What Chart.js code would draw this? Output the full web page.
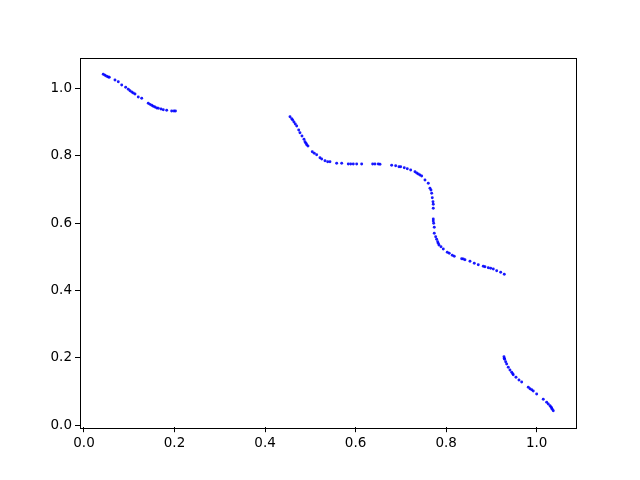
<!DOCTYPE html>
<html>
<head>
<meta charset="utf-8">
<script src="https://cdn.jsdelivr.net/npm/chart.js@4"></script>
<style>
  body { margin: 0; background: #fff; }
</style>
</head>
<body>
<canvas id="myChart" width="640" height="480"></canvas>
<script>
// points, four runs of the curve
const xs = [
  0.0426, 0.0464, 0.0501, 0.0537, 0.0559, 0.0685, 0.0758, 0.0833, 0.0921, 0.0979,
  0.1016, 0.1054, 0.1089, 0.1127, 0.1199, 0.1275, 0.1420, 0.1458, 0.1496, 0.1531,
  0.1568, 0.1606, 0.1641, 0.1701, 0.1752, 0.1827, 0.1937, 0.1988, 0.2021,
  0.4551, 0.4588, 0.4610, 0.4639, 0.4668, 0.4699, 0.4743, 0.4771, 0.4816, 0.4860,
  0.4882, 0.4904, 0.4920, 0.4948, 0.5043, 0.5087, 0.5140, 0.5213, 0.5251, 0.5324,
  0.5383, 0.5434, 0.5582, 0.5693, 0.5838, 0.5891, 0.5949, 0.6024, 0.6134, 0.6377,
  0.6428, 0.6501, 0.6539, 0.6797, 0.6885, 0.6958, 0.6996, 0.7075, 0.7142, 0.7217,
  0.7312, 0.7349, 0.7385, 0.7422, 0.7460, 0.7533, 0.7606, 0.7643, 0.7665, 0.7681,
  0.7694, 0.7710, 0.7716, 0.7716, 0.7716, 0.7716, 0.7725, 0.7738, 0.7738, 0.7769,
  0.7791, 0.7813, 0.7827, 0.7842, 0.7886, 0.7937, 0.8025, 0.8069, 0.8136, 0.8180,
  0.8343, 0.8379, 0.8416, 0.8527, 0.8622, 0.8710, 0.8821, 0.8858, 0.8931, 0.8984,
  0.9042, 0.9117, 0.9205, 0.9285,
  0.9278, 0.9285, 0.9293, 0.9315, 0.9337, 0.9373, 0.9410, 0.9448, 0.9470, 0.9483,
  0.9543, 0.9609, 0.9669, 0.9815, 0.9852, 0.9890, 0.9925, 1.0000, 1.0146, 1.0221,
  1.0256, 1.0294, 1.0316, 1.0331, 1.0345, 1.0367
];
const ys = [
  1.0425, 1.0396, 1.0366, 1.0345, 1.0336, 1.0256, 1.0205, 1.0107, 1.0039, 0.9979,
  0.9938, 0.9899, 0.9869, 0.9840, 0.9750, 0.9712, 0.9563, 0.9533, 0.9504, 0.9474,
  0.9453, 0.9423, 0.9415, 0.9394, 0.9373, 0.9355, 0.9334, 0.9334, 0.9334,
  0.9165, 0.9105, 0.9067, 0.9007, 0.8948, 0.8888, 0.8769, 0.8689, 0.8591, 0.8493,
  0.8422, 0.8374, 0.8333, 0.8294, 0.8124, 0.8077, 0.8035, 0.7946, 0.7907, 0.7857,
  0.7827, 0.7827, 0.7780, 0.7780, 0.7759, 0.7759, 0.7759, 0.7759, 0.7759, 0.7759,
  0.7759, 0.7759, 0.7750, 0.7720, 0.7708, 0.7679, 0.7679, 0.7649, 0.7619, 0.7580,
  0.7530, 0.7491, 0.7461, 0.7432, 0.7402, 0.7283, 0.7185, 0.7036, 0.6986, 0.6888,
  0.6757, 0.6638, 0.6561, 0.6442, 0.6124, 0.6064, 0.5996, 0.5877, 0.5699, 0.5598,
  0.5520, 0.5449, 0.5401, 0.5351, 0.5300, 0.5232, 0.5134, 0.5104, 0.5045, 0.5015,
  0.4944, 0.4935, 0.4914, 0.4866, 0.4807, 0.4765, 0.4718, 0.4706, 0.4676, 0.4658,
  0.4637, 0.4587, 0.4539, 0.4480,
  0.2030, 0.1983, 0.1953, 0.1882, 0.1813, 0.1715, 0.1635, 0.1567, 0.1525, 0.1495,
  0.1418, 0.1338, 0.1278, 0.1121, 0.1079, 0.1049, 0.1011, 0.0922, 0.0764, 0.0675,
  0.0624, 0.0574, 0.0535, 0.0505, 0.0467, 0.0425
];
const xTicks = [0.0, 0.2, 0.4, 0.6, 0.8, 1.0];
const yTicks = [0.0, 0.2, 0.4, 0.6, 0.8, 1.0];

// matplotlib style box round the plot area
const frame = {
  id: "frame",
  afterDraw(chart) {
    const a = chart.chartArea;
    const c = chart.ctx;
    c.save();
    c.strokeStyle = "#000";
    c.lineWidth = 1;
    c.strokeRect(Math.round(a.left) + 0.5, Math.round(a.top) + 0.5,
      Math.round(a.right - a.left), Math.round(a.bottom - a.top));
    c.restore();
  }
};

const tickFont = { family: "DejaVu Sans", size: 13.5 };

let ctx = document.getElementById("myChart").getContext("2d");
let myChart = new Chart(ctx, {
  type: "scatter",
  data: {
    datasets: [
      {
        data: xs.map((x, i) => ({ x: x, y: ys[i] })),
        backgroundColor: "rgba(0, 0, 255, 0.9)",
        borderWidth: 0,
        pointRadius: 1.45,
      }
    ],
  },
  options: {
    responsive: false,
    animation: false,
    layout: { padding: { left: 0, right: 64, top: 57.6, bottom: 0 } },
    plugins: { legend: { display: false }, tooltip: { enabled: false } },
    scales: {
      x: {
        type: "linear",
        min: -0.0088,
        max: 1.0869,
        afterBuildTicks: (axis) => { axis.ticks = xTicks.map(v => ({ value: v })); },
        afterFit: (axis) => { axis.height = 52.8; },
        grid: { drawOnChartArea: false, color: "#000", tickLength: 5 },
        border: { display: false },
        ticks: { color: "#000", font: tickFont, padding: 3, maxRotation: 0,
          callback: (v) => v.toFixed(1) },
      },
      y: {
        type: "linear",
        min: -0.0065,
        max: 1.0922,
        afterBuildTicks: (axis) => { axis.ticks = yTicks.map(v => ({ value: v })); },
        afterFit: (axis) => { axis.width = 80; },
        grid: { drawOnChartArea: false, color: "#000", tickLength: 5 },
        border: { display: false },
        ticks: { color: "#000", font: tickFont, padding: 3,
          callback: (v) => v.toFixed(1) },
      },
    },
  },
  plugins: [frame],
});
</script>
</body>
</html>
